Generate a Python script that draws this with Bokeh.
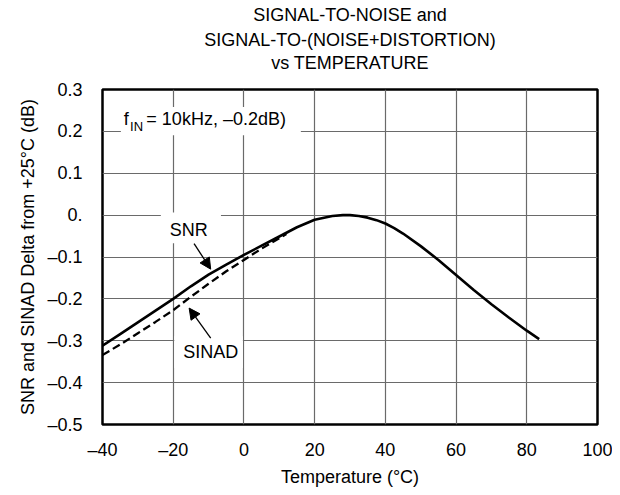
from bokeh.plotting import figure
from bokeh.models import Range1d, FixedTicker, Label, Arrow, NormalHead, Title
from bokeh.embed import file_html
from bokeh.resources import INLINE

# ---------------- data ----------------
temp_snr = [-40, -35, -30, -25, -20, -15, -10, -5, 0, 5, 10, 15, 20, 25, 28, 30, 32.5, 35,
            37.5, 40, 42.5, 45, 50, 55, 60, 65, 70, 75, 80, 83.5]
snr = [-0.312, -0.284, -0.256, -0.228, -0.200, -0.170, -0.142, -0.118, -0.095, -0.073,
       -0.051, -0.029, -0.011, -0.002, 0.0, 0.0, -0.002, -0.006,
       -0.012, -0.020, -0.031, -0.044, -0.074, -0.107,
       -0.143, -0.179, -0.213, -0.245, -0.276, -0.296]

temp_sinad = [-40, -35, -30, -25, -20, -15, -10, -5, 0, 5, 10, 12]
sinad = [-0.334, -0.309, -0.282, -0.255, -0.227, -0.195, -0.164, -0.134, -0.107,
         -0.080, -0.055, -0.045]

x_ticks = [-40, -20, 0, 20, 40, 60, 80, 100]
x_tick_labels = ["–40", "–20", "0", "20", "40", "60", "80", "100"]
y_ticks = [-0.5, -0.4, -0.3, -0.2, -0.1, 0.0, 0.1, 0.2, 0.3]
y_tick_labels = ["–0.5", "–0.4", "–0.3", "–0.2", "–0.1", "0.", "0.1", "0.2", "0.3"]

title_lines = ["SIGNAL-TO-NOISE and", "SIGNAL-TO-(NOISE+DISTORTION)", "vs TEMPERATURE"]
title_standoffs = [5, 1, 1]

# annotation boxes (left, right, bottom, top) in data units
box_fin = (-34.8, 16.1, 0.191, 0.258)
box_snr = (-23.5, -6.5, -0.067, 0.006)
box_sinad = (-19.7, -0.3, -0.365, -0.289)

FONT = "Liberation Sans"
FS = "18px"

p = figure(frame_width=495, frame_height=335,
           x_range=Range1d(-40, 100), y_range=Range1d(-0.5, 0.3),
           output_backend="svg", toolbar_location=None, title=None,
           min_border_left=102, min_border_right=15,
           min_border_top=11, min_border_bottom=10)
p.background_fill_color = "white"
p.border_fill_color = "white"
p.outline_line_color = "black"
p.outline_line_width = 2.5

for ax, ticks, labels in ((p.xaxis, x_ticks, x_tick_labels), (p.yaxis, y_ticks, y_tick_labels)):
    ax.ticker = FixedTicker(ticks=ticks)
    ax.major_label_overrides = dict(zip(ticks, labels))
    ax.axis_line_color = None
    ax.major_tick_line_color = None
    ax.minor_tick_line_color = None
    ax.major_label_text_font = FONT
    ax.major_label_text_font_size = FS
    ax.major_label_text_color = "black"
    ax.axis_label_text_font = FONT
    ax.axis_label_text_font_size = FS
    ax.axis_label_text_font_style = "normal"
    ax.axis_label_text_color = "black"

p.xaxis.axis_label = "Temperature (°C)"
p.xaxis.major_label_standoff = 9
p.xaxis.axis_label_standoff = 4
p.yaxis.axis_label = "SNR and SINAD Delta from +25°C (dB)"
p.yaxis.major_label_standoff = 14
p.yaxis.axis_label_standoff = 6

p.xgrid.ticker = FixedTicker(ticks=x_ticks)
p.ygrid.ticker = FixedTicker(ticks=y_ticks)
for g in (p.xgrid, p.ygrid):
    g.grid_line_color = "#6a6a6a"
    g.grid_line_width = 1.2

# title (added nearest-first); a small blank spacer sits between frame and title
p.add_layout(Title(text=" ", text_font=FONT, text_font_size="10px", standoff=3), "above")
for t, so in zip(reversed(title_lines), reversed(title_standoffs)):
    p.add_layout(Title(text=t, align="center", text_font=FONT, text_font_size=FS,
                       text_font_style="normal", text_color="black", standoff=so), "above")

# white boxes behind annotations
for b in (box_fin, box_snr, box_sinad):
    p.quad(left=[b[0]], right=[b[1]], bottom=[b[2]], top=[b[3]],
           fill_color="white", line_color=None)

# curves
p.line(temp_sinad, sinad, line_color="black", line_width=2.3, line_dash="8 4")
p.line(temp_snr, snr, line_color="black", line_width=2.6)

# f_IN annotation
p.add_layout(Label(x=-34.0, y=0.229, text="f", text_align="left", text_baseline="alphabetic",
                   text_font=FONT, text_font_size=FS, text_color="black"))
p.add_layout(Label(x=-32.2, y=0.211, text="IN", text_align="left", text_baseline="alphabetic",
                   text_font=FONT, text_font_size="13px", text_color="black"))
p.add_layout(Label(x=-27.6, y=0.229, text="= 10kHz, –0.2dB)", text_align="left",
                   text_baseline="alphabetic",
                   text_font=FONT, text_font_size=FS, text_color="black"))

p.add_layout(Label(x=-15.6, y=-0.036, text="SNR", text_align="center", text_baseline="middle",
                   text_font=FONT, text_font_size=FS, text_color="black"))
p.add_layout(Label(x=-9.4, y=-0.327, text="SINAD", text_align="center", text_baseline="middle",
                   text_font=FONT, text_font_size=FS, text_color="black"))

# arrows
p.add_layout(Arrow(end=NormalHead(size=11, fill_color="black", line_color="black", line_width=1),
                   x_start=-14.1, y_start=-0.068, x_end=-9.4, y_end=-0.129,
                   line_color="black", line_width=1.3))
p.add_layout(Arrow(end=NormalHead(size=11, fill_color="black", line_color="black", line_width=1),
                   x_start=-9.4, y_start=-0.294, x_end=-15.5, y_end=-0.222,
                   line_color="black", line_width=1.3))

open("out.html", "w").write(file_html(p, INLINE))
